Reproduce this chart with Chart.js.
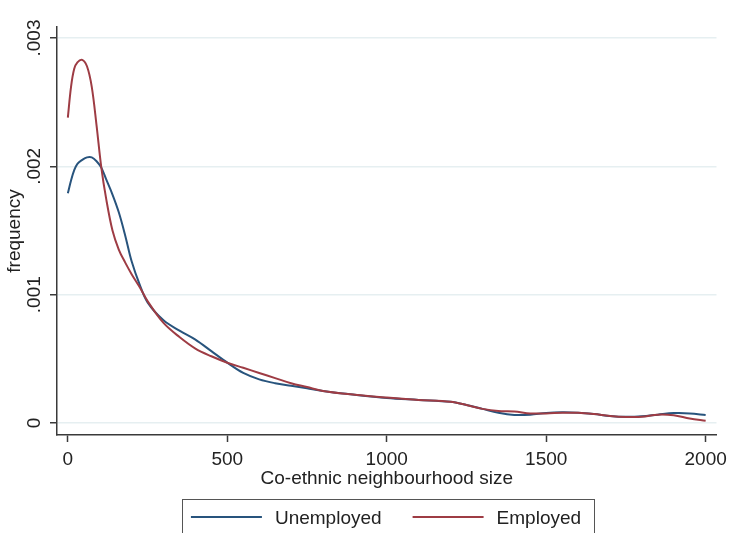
<!DOCTYPE html>
<html>
<head>
<meta charset="utf-8">
<script src="https://cdn.jsdelivr.net/npm/chart.js@4.4.1/dist/chart.umd.min.js"></script>
<style>
  html, body { margin: 0; padding: 0; background: #ffffff; }
  #wrap { width: 733px; height: 533px; position: relative; }
</style>
</head>
<body>
<div id="wrap"><canvas id="c" width="733" height="533"></canvas></div>
<script>
// Kernel density of co-ethnic neighbourhood size, by employment status
const neighbourhoodSize = [0, 10, 20, 30, 45, 60, 75, 90, 105, 120, 140, 160, 180, 200, 225, 250,
  300, 350, 400, 450, 500, 550, 600, 650, 700, 750, 800, 900, 1000, 1100, 1200, 1250, 1300,
  1350, 1400, 1450, 1500, 1550, 1600, 1650, 1700, 1750, 1800, 1850, 1900, 1950, 2000];

const unemployed = [0.00179, 0.00189, 0.00197, 0.00202, 0.00205, 0.00207, 0.00207, 0.00204,
  0.00199, 0.00190, 0.00178, 0.00164, 0.00146, 0.00126, 0.00108, 0.00094,
  0.00080, 0.00072, 0.00065, 0.00056, 0.00047, 0.00039, 0.00034, 0.00031, 0.00029, 0.00027,
  0.00025, 0.00022, 0.000195, 0.00018, 0.000165, 0.00014, 0.00011,
  0.00008, 0.000063, 0.000065, 0.000078, 0.000083, 0.00008, 0.00007, 0.000055, 0.000048,
  0.000052, 0.000065, 0.000077, 0.000075, 0.000062];

const employed = [0.00238, 0.00262, 0.00276, 0.00281, 0.00283, 0.00278, 0.00262, 0.00232,
  0.00199, 0.00175, 0.00150, 0.00135, 0.00125, 0.00116, 0.00106, 0.00095,
  0.00078, 0.00067, 0.00058, 0.00052, 0.00047, 0.00043, 0.00039, 0.00035, 0.00031, 0.00028,
  0.00025, 0.00022, 0.000198, 0.00018, 0.000165, 0.00014, 0.00011,
  0.000093, 0.00009, 0.000075, 0.000075, 0.00008, 0.00008, 0.00007, 0.000055, 0.000047,
  0.000048, 0.000065, 0.00006, 0.000035, 0.000018];

const xTicks = [0, 500, 1000, 1500, 2000];
const yTicks = [0, 0.001, 0.002, 0.003];
const yTickLabels = ['0', '.001', '.002', '.003'];

const FONT_FAMILY = '"Liberation Sans", Arial, sans-serif';
const TEXT = '#222222';
const AXIS = '#3a3a3a';

const toPoints = ys => neighbourhoodSize.map((x, i) => ({ x: x, y: ys[i] }));

// Legend in a framed box below the x-axis title
const boxedLegend = {
  id: 'boxedLegend',
  afterDraw(chart) {
    const { ctx } = chart;
    ctx.save();
    ctx.font = '19px ' + FONT_FAMILY;
    const lineLen = 71, gap = 13, itemGap = 31;
    const items = chart.data.datasets.map(ds => ({
      label: ds.label, color: ds.borderColor, w: ctx.measureText(ds.label).width
    }));
    const total = items.reduce((s, it) => s + lineLen + gap + it.w, 0) + itemGap * (items.length - 1);
    let x = 386 - total / 2;
    const cy = 517;
    ctx.strokeStyle = '#555555';
    ctx.lineWidth = 1;
    ctx.strokeRect(Math.round(x - 9) + 0.5, 499.5, Math.round(total + 22), 60);
    items.forEach(it => {
      ctx.strokeStyle = it.color;
      ctx.lineWidth = 2;
      ctx.beginPath();
      ctx.moveTo(x, cy);
      ctx.lineTo(x + lineLen, cy);
      ctx.stroke();
      ctx.fillStyle = TEXT;
      ctx.textBaseline = 'alphabetic';
      ctx.fillText(it.label, x + lineLen + gap, cy + 7);
      x += lineLen + gap + it.w + itemGap;
    });
    ctx.restore();
  }
};

const whiteBackground = {
  id: 'whiteBackground',
  beforeDraw(chart) {
    const { ctx, width, height } = chart;
    ctx.save();
    ctx.fillStyle = '#ffffff';
    ctx.fillRect(0, 0, width, height);
    ctx.restore();
  }
};

new Chart(document.getElementById('c'), {
  type: 'line',
  data: {
    datasets: [
      {
        label: 'Unemployed',
        data: toPoints(unemployed),
        borderColor: 'rgb(40, 84, 125)',
        borderWidth: 2,
        pointRadius: 0,
        tension: 0.35,
        fill: false,
        order: 1
      },
      {
        label: 'Employed',
        data: toPoints(employed),
        borderColor: 'rgb(158, 60, 68)',
        borderWidth: 2,
        pointRadius: 0,
        tension: 0.35,
        fill: false,
        order: 0
      }
    ]
  },
  options: {
    responsive: false,
    animation: false,
    devicePixelRatio: 1,
    layout: { padding: { top: 27, right: 13, left: 0, bottom: 38 } },
    plugins: {
      legend: { display: false },
      tooltip: { enabled: false }
    },
    scales: {
      x: {
        type: 'linear',
        min: -34,
        max: 2034,
        afterBuildTicks: s => { s.ticks = xTicks.map(v => ({ value: v })); },
        afterFit: s => { s.height = 60; },
        grid: { drawOnChartArea: false, drawTicks: true, tickLength: 7, tickColor: AXIS, tickWidth: 1.5 },
        border: { display: true, color: AXIS, width: 1.5 },
        ticks: {
          padding: 6,
          color: TEXT,
          font: { family: FONT_FAMILY, size: 19 },
          maxRotation: 0,
          callback: v => String(v)
        },
        title: {
          display: true,
          text: 'Co-ethnic neighbourhood size',
          color: TEXT,
          font: { family: FONT_FAMILY, size: 19 },
          padding: { top: 0, bottom: 5 }
        }
      },
      y: {
        type: 'linear',
        min: -0.0000935,
        max: 0.003086,
        afterBuildTicks: s => { s.ticks = yTicks.map(v => ({ value: v })); },
        afterFit: s => { s.width = 57; },
        grid: { color: '#e6eff1', lineWidth: 1.5, drawTicks: true, tickLength: 7, tickColor: AXIS, tickWidth: 1.5 },
        border: { display: true, color: AXIS, width: 1.5 },
        ticks: {
          padding: -3,
          minRotation: 90,
          maxRotation: 90,
          crossAlign: 'center',
          color: TEXT,
          font: { family: FONT_FAMILY, size: 19 },
          callback: v => yTickLabels[yTicks.indexOf(v)] ?? ''
        },
        title: {
          display: true,
          text: 'frequency',
          color: TEXT,
          font: { family: FONT_FAMILY, size: 19 },
          padding: { top: 3, bottom: 0 }
        }
      }
    }
  },
  plugins: [whiteBackground, boxedLegend]
});
</script>
</body>
</html>
